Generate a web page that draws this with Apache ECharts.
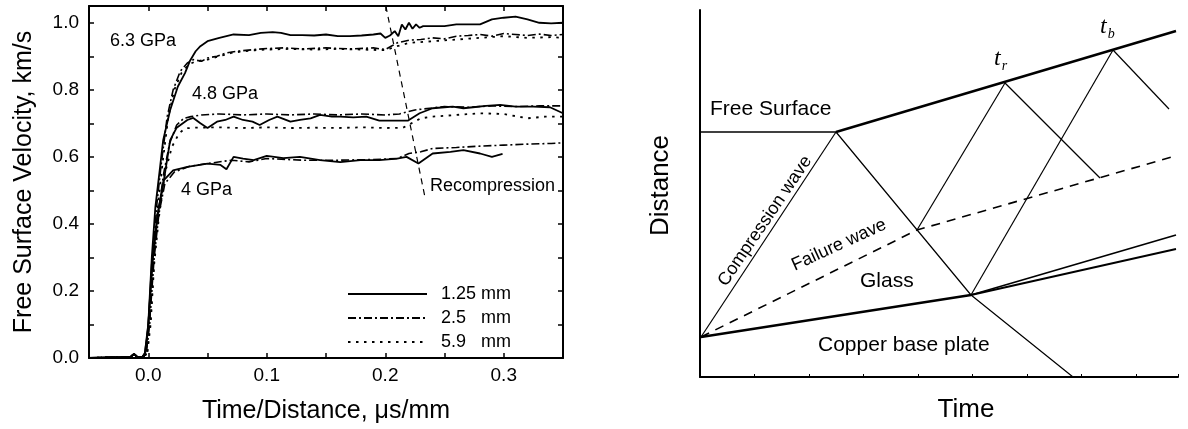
<!DOCTYPE html>
<html>
<head>
<meta charset="utf-8">
<script src="https://cdn.jsdelivr.net/npm/echarts@6/dist/echarts.min.js"></script>
<style>
  html, body { margin: 0; padding: 0; background: #fff; }
  #chart { width: 1188px; height: 429px; }
</style>
</head>
<body>
<div id="chart"></div>
<script>
// left panel: free surface velocity traces [time/distance, velocity]
var base = [[-0.05,0],[-0.03,0.002],[-0.015,0.003],[-0.012,0.012],[-0.009,0.002],[-0.005,0.003]];

var v63_125 = [[-0.002,0.02],[0,0.1],[0.003,0.3],[0.006,0.45],[0.01,0.57],[0.0126,0.65],[0.0185,0.74],[0.025,0.81],[0.031,0.85],[0.035,0.885],[0.04,0.915],[0.044,0.93],[0.05,0.945],[0.06,0.955],[0.066,0.96],[0.072,0.965],[0.085,0.963],[0.095,0.97],[0.105,0.972],[0.112,0.97],[0.12,0.963],[0.13,0.963],[0.14,0.962],[0.15,0.965],[0.16,0.96],[0.17,0.96],[0.18,0.962],[0.19,0.965],[0.196,0.968],[0.2,0.955],[0.204,0.962],[0.208,0.975],[0.211,0.96],[0.214,0.995],[0.217,0.98],[0.22,1.0],[0.223,0.982],[0.226,0.995],[0.229,0.985],[0.232,0.99],[0.24,0.99],[0.25,0.99],[0.26,0.995],[0.27,0.995],[0.28,0.995],[0.29,1.01],[0.3,1.015],[0.31,1.018],[0.32,1.01],[0.33,1.0],[0.34,0.998],[0.35,1.0]];
var v63_25 = [[-0.002,0.01],[0.001,0.12],[0.004,0.3],[0.007,0.45],[0.011,0.58],[0.016,0.72],[0.021,0.8],[0.027,0.855],[0.033,0.88],[0.038,0.89],[0.045,0.885],[0.05,0.895],[0.058,0.9],[0.066,0.91],[0.075,0.915],[0.089,0.92],[0.1,0.923],[0.114,0.925],[0.13,0.922],[0.15,0.925],[0.17,0.922],[0.19,0.925],[0.2,0.92],[0.205,0.93],[0.21,0.94],[0.22,0.948],[0.23,0.95],[0.24,0.955],[0.25,0.952],[0.26,0.96],[0.27,0.962],[0.28,0.965],[0.29,0.96],[0.3,0.968],[0.31,0.965],[0.32,0.962],[0.33,0.966],[0.34,0.962],[0.35,0.965]];
var v63_59 = [[-0.001,0.01],[0.002,0.12],[0.005,0.3],[0.008,0.45],[0.012,0.58],[0.017,0.72],[0.022,0.8],[0.028,0.85],[0.034,0.875],[0.04,0.885],[0.05,0.89],[0.06,0.9],[0.07,0.91],[0.08,0.915],[0.09,0.918],[0.1,0.92],[0.12,0.922],[0.14,0.92],[0.16,0.922],[0.18,0.92],[0.2,0.918],[0.21,0.93],[0.22,0.94],[0.24,0.945],[0.26,0.95],[0.28,0.955],[0.3,0.96],[0.32,0.955],[0.34,0.957],[0.35,0.955]];

var v48_125 = [[-0.003,0.01],[0,0.09],[0.003,0.28],[0.0076,0.42],[0.013,0.526],[0.0185,0.65],[0.024,0.687],[0.033,0.71],[0.038,0.716],[0.044,0.7],[0.05,0.686],[0.058,0.705],[0.065,0.71],[0.072,0.72],[0.08,0.71],[0.088,0.705],[0.094,0.695],[0.102,0.71],[0.109,0.72],[0.12,0.705],[0.128,0.71],[0.137,0.715],[0.145,0.725],[0.155,0.72],[0.162,0.72],[0.173,0.718],[0.184,0.72],[0.195,0.708],[0.219,0.708],[0.229,0.73],[0.24,0.745],[0.25,0.748],[0.257,0.75],[0.266,0.745],[0.274,0.748],[0.285,0.752],[0.297,0.755],[0.31,0.75],[0.325,0.75],[0.339,0.748],[0.35,0.73]];
var v48_25 = [[-0.002,0.01],[0.001,0.1],[0.004,0.28],[0.008,0.42],[0.013,0.55],[0.018,0.64],[0.024,0.695],[0.03,0.715],[0.036,0.72],[0.045,0.725],[0.06,0.728],[0.08,0.725],[0.1,0.728],[0.12,0.725],[0.14,0.728],[0.16,0.725],[0.18,0.728],[0.2,0.725],[0.212,0.728],[0.225,0.74],[0.24,0.746],[0.25,0.75],[0.27,0.748],[0.29,0.752],[0.31,0.75],[0.33,0.752],[0.35,0.752]];
var v48_59 = [[-0.001,0.01],[0.002,0.1],[0.005,0.28],[0.009,0.42],[0.014,0.55],[0.02,0.63],[0.026,0.67],[0.031,0.685],[0.04,0.687],[0.06,0.688],[0.08,0.686],[0.1,0.688],[0.12,0.686],[0.14,0.687],[0.16,0.686],[0.18,0.688],[0.2,0.686],[0.215,0.687],[0.222,0.7],[0.23,0.715],[0.24,0.72],[0.26,0.725],[0.28,0.73],[0.3,0.728],[0.32,0.715],[0.335,0.72],[0.35,0.72]];

var v40_125 = [[-0.003,0.01],[0,0.1],[0.004,0.3],[0.008,0.43],[0.013,0.53],[0.021,0.56],[0.033,0.57],[0.05,0.58],[0.061,0.576],[0.066,0.563],[0.072,0.6],[0.08,0.595],[0.089,0.59],[0.1,0.603],[0.114,0.596],[0.128,0.6],[0.145,0.59],[0.162,0.584],[0.179,0.59],[0.195,0.59],[0.21,0.595],[0.218,0.6],[0.228,0.58],[0.24,0.61],[0.255,0.615],[0.266,0.62],[0.28,0.61],[0.29,0.6],[0.299,0.609]];
var v40_25 = [[-0.002,0.01],[0.001,0.1],[0.005,0.3],[0.009,0.43],[0.014,0.52],[0.022,0.555],[0.035,0.572],[0.05,0.58],[0.07,0.59],[0.085,0.585],[0.1,0.595],[0.13,0.59],[0.16,0.59],[0.19,0.592],[0.21,0.595],[0.22,0.61],[0.23,0.615],[0.24,0.625],[0.26,0.628],[0.28,0.632],[0.3,0.635],[0.32,0.638],[0.34,0.64],[0.35,0.642]];

var recompression = [[0.2005,1.05],[0.2335,0.48]];

var thickNames = ['1.25 mm', '2.5   mm', '5.9   mm'];

// right panel: wave diagram segments in [time, distance] units of the sketch
var freeFlat = [[0,245],[136,245]];
var freeSlope = [[136,245],[476,346]];
var compression = [[1,40],[136,245]];
var interfaceLine = [[1,40],[271,82]];
var reflected = [[136,245],[271,82],[373,0]];
var failure = [[1,40],[217,147],[472,220]];
var rise1 = [[217,147],[305,294]];
var refl2 = [[305,294],[400,199]];
var rise2 = [[271,82],[413,327]];
var refl3 = [[413,327],[469,268]];
var fan1 = [[271,82],[476,142]];
var fan2 = [[271,82],[476,128]];

var FONT = 'Liberation Sans, Arial, sans-serif';
var SERIF = 'Liberation Serif, Times New Roman, serif';
var myChart = echarts.init(document.getElementById('chart'));

function tr(d) { return base.concat(d); }

function leftLine(name, data, type, width) {
    return {
        name: name, type: 'line', xAxisIndex: 0, yAxisIndex: 0,
        data: data, symbol: 'none', showSymbol: false,
        lineStyle: { color: '#000', width: width || 1.8, type: type || 'solid' },
        itemStyle: { color: '#000' }
    };
}
function rightLine(data, width, type) {
    return {
        type: 'line', xAxisIndex: 2, yAxisIndex: 2, data: data,
        symbol: 'none', showSymbol: false, silent: true,
        lineStyle: { color: '#000', width: width, type: type || 'solid' }
    };
}

var dashT = [8, 3, 2, 3];
var dotT = [2.5, 5.5];
var axLine = { onZero: false, lineStyle: { color: '#000', width: 2 } };
var axTick = { inside: true, length: 5, lineStyle: { color: '#000', width: 1.5 } };

var option = {
    animation: false,
    backgroundColor: '#fff',
    textStyle: { fontFamily: FONT, color: '#000' },
    legend: {
        data: thickNames,
        orient: 'vertical',
        left: 342, top: 280,
        itemWidth: 79, itemHeight: 14, itemGap: 6,
        selectedMode: false,
        itemStyle: { opacity: 0 },
        textStyle: { fontFamily: FONT, fontSize: 18, color: '#000', padding: [0, 0, 0, 9] }
    },
    grid: [
        { left: 89, top: 6, width: 474, height: 352 },
        { left: 700, top: 10, width: 478, height: 367 }
    ],
    xAxis: [
        {
            gridIndex: 0, type: 'value', position: 'bottom', min: -0.05, max: 0.35, interval: 0.05,
            name: 'Time/Distance, μs/mm', nameLocation: 'middle', nameGap: 41,
            nameTextStyle: { fontFamily: FONT, fontSize: 25, color: '#000' },
            axisLine: axLine, axisTick: axTick,
            axisLabel: {
                margin: 8, fontSize: 19, color: '#000', fontFamily: FONT,
                formatter: function (v) {
                    var k = Math.round(v * 100);
                    return (k % 10 === 0) ? v.toFixed(1) : '';
                }
            },
            splitLine: { show: false }
        },
        {
            gridIndex: 0, type: 'value', position: 'top', min: -0.05, max: 0.35, interval: 0.05,
            axisLine: axLine, axisTick: axTick,
            axisLabel: { show: false }, splitLine: { show: false }
        },
        {
            gridIndex: 1, type: 'value', min: 0, max: 478, interval: 54.5,
            name: 'Time', nameLocation: 'middle', nameGap: 20,
            nameTextStyle: { fontFamily: FONT, fontSize: 26, color: '#000', padding: [0, 0, 0, 54] },
            axisLine: axLine,
            axisTick: { inside: true, length: 3, lineStyle: { color: '#000', width: 1 } },
            axisLabel: { show: false }, splitLine: { show: false }
        }
    ],
    yAxis: [
        {
            gridIndex: 0, type: 'value', position: 'left', min: 0, max: 1.05, interval: 0.1,
            name: 'Free Surface Velocity, km/s', nameLocation: 'middle', nameGap: 52,
            nameTextStyle: { fontFamily: FONT, fontSize: 25, color: '#000' },
            axisLine: axLine, axisTick: axTick,
            axisLabel: {
                margin: 10, fontSize: 19, color: '#000', fontFamily: FONT,
                formatter: function (v) {
                    var k = v * 5;
                    return (Math.abs(k - Math.round(k)) < 1e-6 && v <= 1.0001) ? v.toFixed(1) : '';
                }
            },
            splitLine: { show: false }
        },
        {
            gridIndex: 0, type: 'value', position: 'right', min: 0, max: 1.05, interval: 0.1,
            axisLine: axLine, axisTick: axTick,
            axisLabel: { show: false }, splitLine: { show: false }
        },
        {
            gridIndex: 1, type: 'value', min: 0, max: 367,
            name: 'Distance', nameLocation: 'middle', nameGap: 26,
            nameTextStyle: { fontFamily: FONT, fontSize: 26, color: '#000', padding: [0, 0, 0, 16] },
            axisLine: axLine,
            axisTick: { show: false }, axisLabel: { show: false }, splitLine: { show: false }
        }
    ],
    graphic: [
        { type: 'text', left: 110, top: 32, style: { text: '6.3 GPa', font: '18px ' + FONT, fill: '#000' } },
        { type: 'text', left: 192, top: 85, style: { text: '4.8 GPa', font: '18px ' + FONT, fill: '#000' } },
        { type: 'text', left: 181, top: 181, style: { text: '4 GPa', font: '18px ' + FONT, fill: '#000' } },
        { type: 'text', left: 430, top: 177, style: { text: 'Recompression', font: '18px ' + FONT, fill: '#000' } },
        { type: 'text', left: 710, top: 99, style: { text: 'Free Surface', font: '21px ' + FONT, fill: '#000' } },
        { type: 'text', x: 765, y: 221, rotation: 0.975,
          style: { text: 'Compression wave', font: '18px ' + FONT, fill: '#000', align: 'center', verticalAlign: 'middle' } },
        { type: 'text', x: 839, y: 245, rotation: 0.43,
          style: { text: 'Failure wave', font: '18px ' + FONT, fill: '#000', align: 'center', verticalAlign: 'middle' } },
        { type: 'text', left: 860, top: 271, style: { text: 'Glass', font: '21px ' + FONT, fill: '#000' } },
        { type: 'text', left: 818, top: 335, style: { text: 'Copper base plate', font: '21px ' + FONT, fill: '#000' } },
        { type: 'text', left: 994, top: 47,
          style: { text: '{t|t}{s|r}', rich: {
              t: { font: 'italic 24px ' + SERIF, fill: '#000' },
              s: { font: 'italic 14px ' + SERIF, fill: '#000', padding: [14, 0, 0, 1] } } } },
        { type: 'text', left: 1100, top: 15,
          style: { text: '{t|t}{s|b}', rich: {
              t: { font: 'italic 24px ' + SERIF, fill: '#000' },
              s: { font: 'italic 14px ' + SERIF, fill: '#000', padding: [14, 0, 0, 1] } } } }
    ],
    series: [
        leftLine(thickNames[0], tr(v63_125), 'solid', 1.8),
        leftLine(thickNames[1], tr(v63_25), dashT, 1.6),
        leftLine(thickNames[2], tr(v63_59), dotT, 1.8),
        leftLine(thickNames[0], tr(v48_125), 'solid', 1.8),
        leftLine(thickNames[1], tr(v48_25), dashT, 1.6),
        leftLine(thickNames[2], tr(v48_59), dotT, 1.8),
        leftLine(thickNames[0], tr(v40_125), 'solid', 1.8),
        leftLine(thickNames[1], tr(v40_25), dashT, 1.6),
        {
            type: 'line', xAxisIndex: 0, yAxisIndex: 0, data: recompression, symbol: 'none', silent: true,
            lineStyle: { color: '#000', width: 1.2, type: [6, 5] }
        },
        rightLine(freeFlat, 1.6),
        rightLine(freeSlope, 2.5),
        rightLine(compression, 1.2),
        rightLine(interfaceLine, 2.5),
        rightLine(reflected, 1.2),
        rightLine(failure, 1.6, [9, 7]),
        rightLine(rise1, 1.2),
        rightLine(refl2, 1.2),
        rightLine(rise2, 1.2),
        rightLine(refl3, 1.2),
        rightLine(fan1, 1.8),
        rightLine(fan2, 1.8)
    ]
};

myChart.setOption(option);
</script>
</body>
</html>
